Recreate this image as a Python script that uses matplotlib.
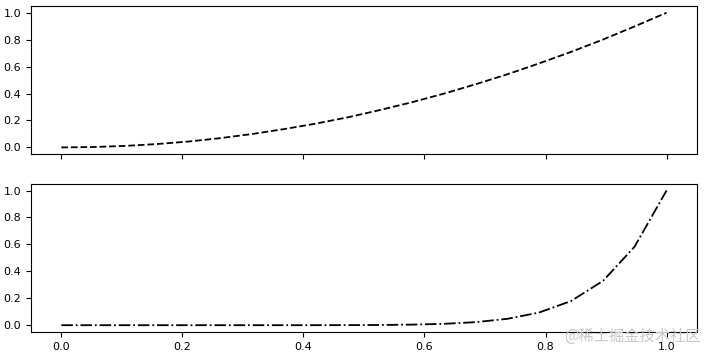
import matplotlib
matplotlib.use("Agg")
import matplotlib.pyplot as plt

# points (20 evenly spaced x values)
x = [0.0, 0.053, 0.105, 0.158, 0.211, 0.263, 0.316, 0.368, 0.421, 0.474,
     0.526, 0.579, 0.632, 0.684, 0.737, 0.789, 0.842, 0.895, 0.947, 1.0]
y_top = [0.0, 0.003, 0.011, 0.025, 0.044, 0.069, 0.100, 0.136, 0.177, 0.224,
         0.277, 0.335, 0.399, 0.468, 0.543, 0.623, 0.709, 0.801, 0.898, 1.0]
y_bottom = [0.0, 0.0, 0.0, 0.0, 0.0, 0.0, 0.0, 0.0, 0.0002, 0.0006,
            0.0016, 0.0042, 0.0102, 0.0224, 0.0474, 0.0934, 0.179, 0.329, 0.582, 1.0]

fig, (ax1, ax2) = plt.subplots(2, 1, sharex=True, figsize=(7.06, 3.52), dpi=100)
fig.subplots_adjust(left=0.044, right=0.987, top=0.983, bottom=0.057, hspace=0.2)

ax1.plot(x, y_top, "k--", lw=1.3)
ax2.plot(x, y_bottom, "k-.", lw=1.3)

for ax in (ax1, ax2):
    ax.set_yticks([0.0, 0.2, 0.4, 0.6, 0.8, 1.0])
    ax.tick_params(labelsize=8)

# watermark
fig.text(0.993, 0.02, "@稀土掘金技术社区", ha="right", va="bottom", fontsize=11,
         color="#c8c8c8", family=["Noto Sans CJK SC", "DejaVu Sans"])

fig.savefig("out.png", dpi=100)
